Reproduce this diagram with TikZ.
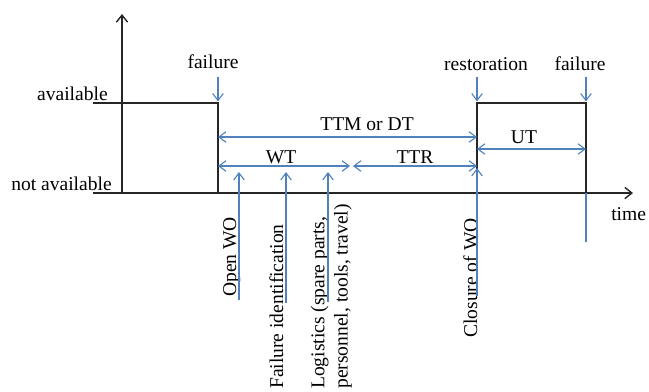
\documentclass[tikz,border=0pt]{standalone}
\usepackage{fontspec}
\setmainfont{Liberation Serif}
\usetikzlibrary{arrows.meta}
\definecolor{evblue}{RGB}{79,129,189}

\begin{document}
\begin{tikzpicture}[x=0.025cm,y=-0.025cm,
	font=\fontsize{13.9}{16.5}\selectfont,
	lvl/.style={line width=1pt, black!85},
	ev/.style={evblue, line width=0.8pt},
	tip/.style={ev, -{Straight Barb[length=5pt,width=7.5pt]}},
	span/.style={ev, {Straight Barb[length=5pt,width=7.5pt]}-{Straight Barb[length=5pt,width=7.5pt]}},
	lbl/.style={inner sep=0pt, anchor=base},
	act/.style={inner sep=0pt, rotate=90, anchor=base west, align=left},
]
\useasboundingbox (0,0) rectangle (649,391);

% instants on the time axis
\coordinate (t0) at (93,193);
\coordinate (tend) at (633,193);
\coordinate (o) at (122,193);
\coordinate (ytop) at (122,14);
\coordinate (f1) at (218,193);
\coordinate (rs) at (477,193);
\coordinate (f2) at (586,193);

% axes and state
\draw[lvl, -{Straight Barb[length=5pt,width=8pt]}] (t0) -- (tend);
\draw[lvl, -{Straight Barb[length=5pt,width=8pt]}] (o) -- (ytop);
\draw[lvl] (93,103) -| (f1);
\draw[lvl] (rs) -- ++(0,-90) -| (f2);

\node[lbl, anchor=base east] (av) at (108,100) {available};
\node[lbl, anchor=base east] (nav) at (112,190) {not available};
\node[lbl, anchor=base west] (tm) at (611,220) {time};

% events
\node[lbl] (fl1) at (213,68) {failure};
\node[lbl] (rst) at (486,70) {restoration};
\node[lbl] (fl2) at (580,70) {failure};
\draw[tip] (fl1.south -| f1) ++(0,9) -- ++(0,24);
\draw[tip] (rst.south -| rs) ++(0,7) -- ++(0,24);
\draw[tip] (fl2.south -| f2) ++(0,7) -- ++(0,24);

% durations
\draw[span] (f1 |- 0,137) -- (rs |- 0,137);
\node[lbl] (ttm) at (367,130) {TTM or DT};
\draw[span] (f1 |- 0,166) -- (350,166);
\node[lbl] (wt) at (281,163) {WT};
\draw[span] (353,166) -- (rs |- 0,166);
\node[lbl] (ttr) at (415,163) {TTR};
\draw[span] (rs |- 0,149) -- (f2 |- 0,149);
\node[lbl] (ut) at (524,143) {UT};

% activities
\node[act] (owo) at (236,297) {Open WO};
\draw[tip] (239,300) -- (239,172);
\node[act] (fid) at (283,389) {Failure identification};
\draw[tip] (286,303) -- (286,172);
\node[act, anchor=south west] (lgs) at (352,389) {Logistics (spare parts,\\personnel, tools, travel)};
\draw[tip] (328,302) -- (328,172);
\node[act] (cwo) at (477,338) {Closure of WO};
\draw[tip] (rs |- 0,296) -- (rs |- 0,168);
\draw[ev] (f2) -- ++(0,49);

\end{tikzpicture}
\end{document}
